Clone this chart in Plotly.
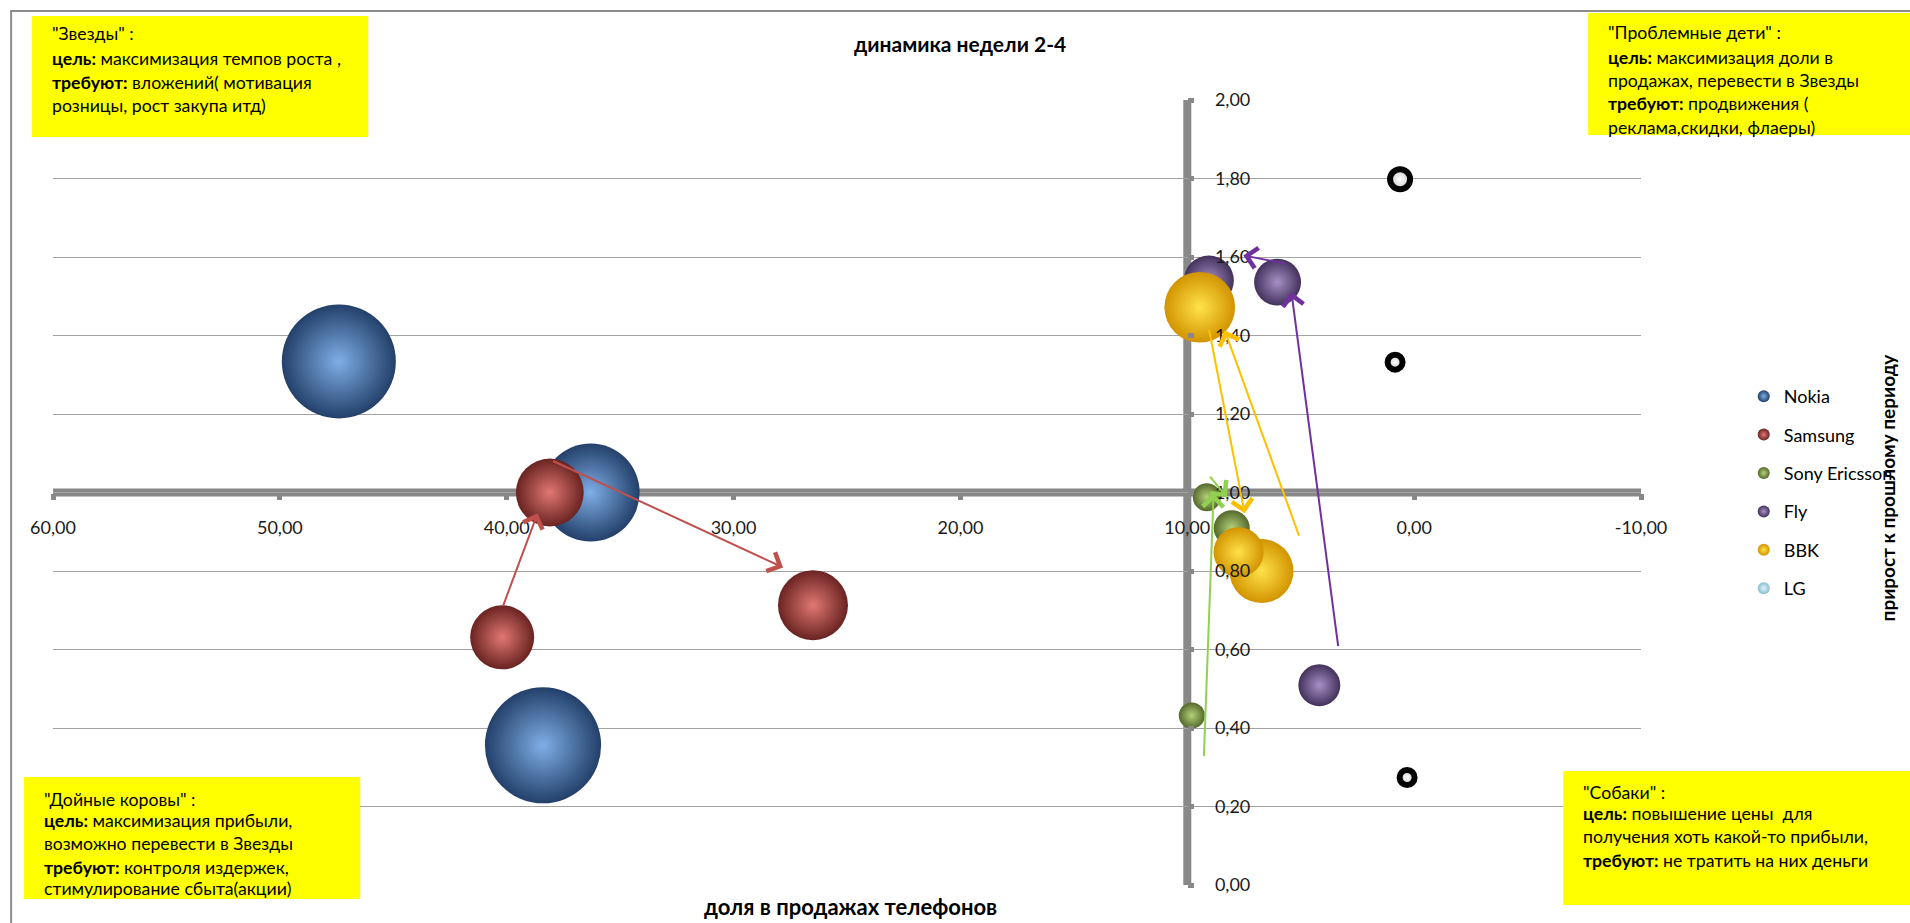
import plotly.graph_objects as go

W, H = 1910, 923
ML, MR, MT, MB = 53, 265, 100, 38
FONT = "Lato"

# --- data -------------------------------------------------------------
brands = ["Nokia", "Samsung", "Sony Ericsson", "Fly", "BBK", "LG"]

# доля в продажах телефонов, % (недели 2, 3, 4)
share_nokia = [47.4, 36.3, 38.4]
share_samsung = [40.2, 38.1, 26.5]
share_sony = [9.8, 9.14, 8.04]
share_fly = [4.18, 6.02, 9.05]
share_bbk = [6.73, 9.45, 7.74]
share_lg = [0.62, 0.84, 0.31]

# прирост к прошлому периоду
growth_nokia = [1.334, 1.00, 0.356]
growth_samsung = [0.631, 1.00, 0.713]
growth_sony = [0.432, 0.988, 0.909]
growth_fly = [0.509, 1.536, 1.54]
growth_bbk = [0.80, 1.472, 0.848]
growth_lg = [1.798, 1.332, 0.274]

# объём продаж (размер пузырька)
volume_nokia = [130, 96, 135]
volume_samsung = [41, 46, 49]
volume_sony = [6.8, 7.8, 13]
volume_fly = [17.6, 22, 25]
volume_bbk = [41, 50, 25]
volume_lg = [4.0, 2.25, 2.25]

# стрелки динамики: (бренд, начало (доля, прирост), конец (доля, прирост))
arrows = [
    ("Samsung", (40.18, 0.708), (38.64, 0.947)),
    ("Samsung", (38.02, 1.082), (27.82, 0.809)),
    ("Fly", (3.34, 0.605), (5.41, 1.511)),
    ("Fly", (5.63, 1.583), (7.53, 1.604)),
    ("BBK", (5.05, 0.886), (8.35, 1.413)),
    ("BBK", (9.05, 1.418), (7.47, 0.947)),
    ("Sony Ericsson", (9.27, 0.325), (8.84, 0.998)),
    ("Sony Ericsson", (9.05, 1.044), (8.26, 0.988)),
]

x_ticks = [60, 50, 40, 30, 20, 10, 0, -10]
x_ticklabels = ["60,00", "50,00", "40,00", "30,00", "20,00", "10,00", "0,00", "-10,00"]
y_ticks = [0, 0.2, 0.4, 0.6, 0.8, 1.0, 1.2, 1.4, 1.6, 1.8, 2.0]
y_ticklabels = ["0,00", "0,20", "0,40", "0,60", "0,80", "1,00",
                "1,20", "1,40", "1,60", "1,80", "2,00"]

# --- styles -----------------------------------------------------------
# (edge colour, centre highlight) of each sphere
sphere = {
    "Nokia": ("#23406A", "#7FAEE6"),
    "Samsung": ("#6A2321", "#E07873"),
    "Sony Ericsson": ("#55692B", "#B4D27A"),
    "Fly": ("#43315C", "#A790C6"),
    "BBK": ("#D29400", "#FFE24A"),
    "LG": ("#86BDD0", "#E4F5FA"),
}
arrow_color = {
    "Samsung": "#C0504D",
    "Fly": "#7030A0",
    "BBK": "#FFC000",
    "Sony Ericsson": "#92D050",
}

series = {
    "Nokia": (share_nokia, growth_nokia, volume_nokia),
    "Samsung": (share_samsung, growth_samsung, volume_samsung),
    "Sony Ericsson": (share_sony, growth_sony, volume_sony),
    "Fly": (share_fly, growth_fly, volume_fly),
    "BBK": (share_bbk, growth_bbk, volume_bbk),
}

SIZEREF = 0.02  # bubble diameter = 10 * sqrt(volume)


def px_x(px):
    return (px - ML) / (W - ML - MR)


def px_y(py):
    return (H - MB - py) / (H - MT - MB)


fig = go.Figure()

for name, (xs, ys, vs) in series.items():
    edge, centre = sphere[name]
    fig.add_trace(go.Scatter(
        x=xs, y=ys, mode="markers", name=name, legendgroup=name,
        marker=dict(size=vs, sizemode="area", sizeref=SIZEREF, color=edge,
                    opacity=1,
                    gradient=dict(type="radial", color=centre),
                    line=dict(width=0)),
        hoverinfo="x+y+name",
    ))

# LG: legend entry and ring markers on the plot
edge, centre = sphere["LG"]
fig.add_trace(go.Scatter(
    x=[None], y=[None], mode="markers", name="LG", legendgroup="LG",
    marker=dict(size=10, color=edge, opacity=1,
                gradient=dict(type="radial", color=centre)),
))
fig.add_trace(go.Scatter(
    x=share_lg, y=growth_lg, mode="markers", name="LG", legendgroup="LG",
    showlegend=False,
    marker=dict(size=volume_lg, sizemode="area", sizeref=SIZEREF,
                color="#C8C8C8", opacity=1,
                gradient=dict(type="radial", color="#FFFFFF"),
                line=dict(color="#000000", width=6)),
))

annotations = []
for name, (x0, y0), (x1, y1) in arrows:
    annotations.append(dict(
        x=x1, y=y1, ax=x0, ay=y0, xref="x", yref="y", axref="x", ayref="y",
        text="", showarrow=True, arrowhead=4, arrowsize=2, arrowwidth=2,
        arrowcolor=arrow_color[name], standoff=0, startstandoff=0,
    ))

# quadrant notes
notes = [
    ((32, 16, 369, 137), 50, [
        (33, '"Звезды" :'),
        (58, "<b>цель:</b> максимизация темпов роста ,"),
        (82, "<b>требуют:</b> вложений( мотивация"),
        (105, "розницы, рост закупа итд)"),
    ]),
    ((1592, 13, 1915, 135), 1610, [
        (32, '"Проблемные дети" :'),
        (57, "<b>цель:</b> максимизация доли в"),
        (80, "продажах, перевести в Звезды"),
        (103, "<b>требуют:</b> продвижения ("),
        (127, "реклама,скидки, флаеры)"),
    ]),
    ((24, 777, 361, 899), 42, [
        (799, '"Дойные коровы" :'),
        (820, "<b>цель:</b> максимизация прибыли,"),
        (843, "возможно перевести в Звезды"),
        (867, "<b>требуют:</b> контроля издержек,"),
        (888, "стимулирование сбыта(акции)"),
    ]),
    ((1567, 771, 1915, 905), 1585, [
        (792, '"Собаки" :'),
        (813, "<b>цель:</b> повышение цены  для"),
        (836, "получения хоть какой-то прибыли,"),
        (860, "<b>требуют:</b> не тратить на них деньги"),
    ]),
]

shapes = [
    # chart frame
    dict(type="rect", xref="paper", yref="paper",
         x0=px_x(11), y0=px_y(11), x1=px_x(1930), y1=px_y(940),
         line=dict(color="#8C8C8C", width=2), fillcolor="rgba(0,0,0,0)",
         layer="below"),
    # crossing axes
    dict(type="line", xref="x", yref="y", x0=60.2, x1=-10.2, y0=1, y1=1,
         line=dict(color="#888888", width=8), layer="below"),
    dict(type="line", xref="x", yref="y", x0=10, x1=10, y0=-0.012, y1=2.012,
         line=dict(color="#888888", width=8), layer="below"),
]

for (bx0, by0, bx1, by1), tx, lines in notes:
    shapes.append(dict(type="rect", xref="paper", yref="paper",
                       x0=px_x(bx0), y0=px_y(by0), x1=px_x(bx1), y1=px_y(by1),
                       fillcolor="#FFFF00", line=dict(width=0), layer="above"))
    for ly, txt in lines:
        annotations.append(dict(
            x=px_x(tx), y=px_y(ly), xref="paper", yref="paper",
            xanchor="left", yanchor="middle", text=txt, showarrow=False,
            font=dict(family=FONT, size=17.7, color="#000000"),
        ))

annotations += [
    dict(x=px_x(962), y=px_y(43), xref="paper", yref="paper",
         xanchor="center", yanchor="middle",
         text="<b>динамика недели 2-4</b>", showarrow=False,
         font=dict(family=FONT, size=21, color="#000000")),
    dict(x=px_x(853), y=px_y(906), xref="paper", yref="paper",
         xanchor="center", yanchor="middle",
         text="<b>доля в продажах телефонов</b>", showarrow=False,
         font=dict(family=FONT, size=22, color="#000000")),
    dict(x=px_x(1892), y=px_y(487), xref="paper", yref="paper",
         xanchor="center", yanchor="middle",
         text="<b>прирост к прошлому периоду</b>", showarrow=False,
         textangle=-90,
         font=dict(family=FONT, size=19, color="#000000")),
]

fig.update_layout(
    width=W, height=H,
    margin=dict(l=ML, r=MR, t=MT, b=MB),
    paper_bgcolor="#FFFFFF", plot_bgcolor="#FFFFFF",
    font=dict(family=FONT, size=18, color="#1A1A1A"),
    showlegend=True,
    legend=dict(x=px_x(1748), y=px_y(378), xanchor="left", yanchor="top",
                font=dict(family=FONT, size=18, color="#000000"),
                itemsizing="constant", tracegroupgap=12,
                bgcolor="rgba(0,0,0,0)"),
    xaxis=dict(range=[60, -10], anchor="free", position=0.5,
               tickmode="array", tickvals=x_ticks, ticktext=x_ticklabels,
               showgrid=False, zeroline=False, showline=False,
               ticks="outside", ticklen=6, tickwidth=5, tickcolor="#888888",
               ticklabelstandoff=13,
               tickfont=dict(family=FONT, size=18, color="#1A1A1A")),
    yaxis=dict(range=[0, 2], anchor="free", position=50 / 70, side="right",
               tickmode="array", tickvals=y_ticks, ticktext=y_ticklabels,
               showgrid=True, gridcolor="#A3A3A3", gridwidth=1.3,
               zeroline=False, showline=False,
               ticks="outside", ticklen=6, tickwidth=5, tickcolor="#888888",
               ticklabelstandoff=17,
               tickfont=dict(family=FONT, size=18, color="#1A1A1A")),
    shapes=shapes,
    annotations=annotations,
)

fig.write_html("out.html")
